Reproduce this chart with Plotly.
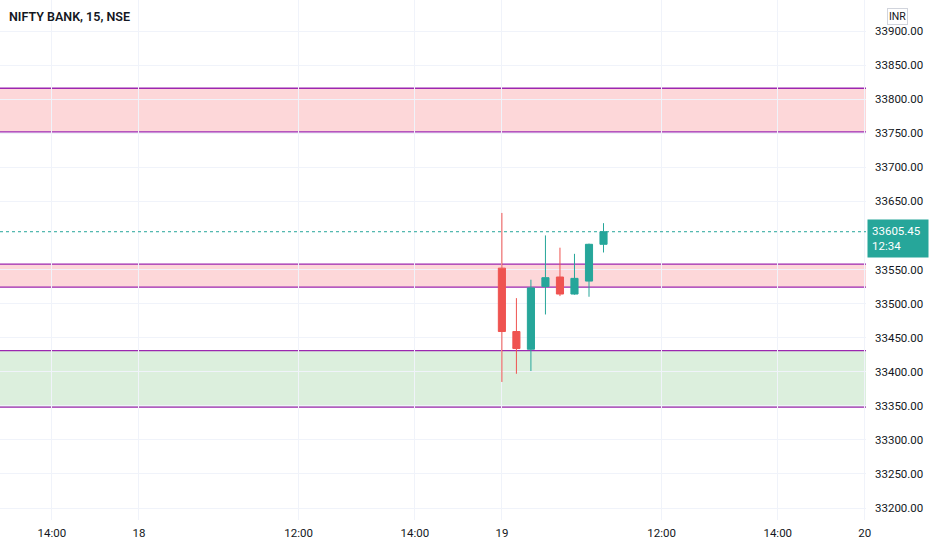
import plotly.graph_objects as go

# --- Data -------------------------------------------------------------------
TITLE = "NIFTY BANK, 15, NSE"

# 15-minute candles on day 19 (session 09:15 - 15:30)
candle_times = ["19 09:15", "19 09:30", "19 09:45", "19 10:00",
                "19 10:15", "19 10:30", "19 10:45", "19 11:00"]
opens = [33552, 33459, 33433, 33525, 33539, 33514, 33533, 33587]
highs = [33633, 33508, 33535, 33600, 33582, 33573, 33588, 33618]
lows = [33385, 33397, 33401, 33484, 33511, 33513, 33510, 33575]
closes = [33459, 33434, 33523, 33538, 33514, 33537, 33587, 33605.45]

last_price = 33605.45
countdown = "12:34"

# supply / demand zones (low, high)
red_zones = [(33752, 33816), (33524, 33558)]
green_zones = [(33348, 33431)]

# time axis labels
tick_times = ["17 14:00", "18 09:15", "18 12:00", "18 14:00",
              "19 09:15", "19 12:00", "19 14:00", "20 09:15"]
tick_labels = ["14:00", "18", "12:00", "14:00", "19", "12:00", "14:00", "20"]

# 33600 sits under the last-price label, so it is left out
price_ticks = [p for p in range(33200, 33901, 50) if p != 33600]

# --- Helpers ----------------------------------------------------------------
SESSION_START = 9 * 60 + 15
BAR_MIN = 15
BARS_PER_DAY = 25
BASE_DAY = 18


def bar_index(stamp):
    """Convert 'DD HH:MM' to a gapless bar index (trading hours only)."""
    day, hm = stamp.split()
    h, m = hm.split(":")
    minutes = int(h) * 60 + int(m) - SESSION_START
    return (int(day) - BASE_DAY) * BARS_PER_DAY + minutes / BAR_MIN


UP = "#26a69a"
DOWN = "#ef5350"
ZONE_LINE = "#9c27b0"
TEXT = "#131722"
GRID = "#f0f3fa"
FONT = "Roboto"

x_candles = [bar_index(t) for t in candle_times]

fig = go.Figure()
fig.add_trace(go.Candlestick(
    x=x_candles, open=opens, high=highs, low=lows, close=closes,
    increasing=dict(line=dict(color=UP, width=1), fillcolor=UP),
    decreasing=dict(line=dict(color=DOWN, width=1), fillcolor=DOWN),
    whiskerwidth=0, showlegend=False, hoverinfo="skip",
))

# zones
for zones, fill in ((red_zones, "rgba(247,124,128,0.3)"), (green_zones, "rgba(129,199,132,0.28)")):
    for lo, hi in zones:
        fig.add_shape(type="rect", xref="paper", x0=0, x1=1, yref="y", y0=lo, y1=hi,
                      fillcolor=fill, line=dict(width=0), layer="between")
        for yv in (lo, hi):
            fig.add_shape(type="line", xref="paper", x0=0, x1=1, yref="y", y0=yv, y1=yv,
                          line=dict(color=ZONE_LINE, width=1.3), layer="between")

# last price line
fig.add_shape(type="line", xref="paper", x0=0, x1=1, yref="y", y0=last_price, y1=last_price,
              line=dict(color=UP, width=1, dash="dot"), layer="above")

fig.add_annotation(xref="paper", x=1, yref="y", y=last_price, xanchor="left", yanchor="middle",
                   xshift=1, yshift=-7, width=52, text=f"{last_price:.2f}<br>{countdown}",
                   showarrow=False, align="left", bgcolor=UP, borderpad=4,
                   font=dict(family=FONT, size=11.5, color="white"))

fig.add_annotation(xref="paper", x=0.008, yref="paper", y=0.968, xanchor="left", yanchor="middle",
                   text=TITLE, showarrow=False,
                   font=dict(family=FONT, size=12.5, color=TEXT, weight=600))

fig.add_annotation(xref="paper", x=1.0358, yref="paper", y=0.969, xanchor="center", yanchor="middle",
                   text="INR", showarrow=False, bgcolor="white", bordercolor="#d1d4dc",
                   borderwidth=1, borderpad=1, font=dict(family=FONT, size=10.5, color=TEXT))

fig.update_layout(
    width=932, height=550,
    margin=dict(l=0, r=66, t=0, b=30),
    paper_bgcolor="white", plot_bgcolor="white",
    font=dict(family=FONT, size=11, color=TEXT),
    xaxis=dict(range=[-9.57, 50.08], rangeslider=dict(visible=False),
               tickvals=[bar_index(t) for t in tick_times], ticktext=tick_labels,
               showgrid=True, gridcolor=GRID, zeroline=False, showline=False,
               ticks="", tickfont=dict(size=11.5), automargin=False, ticklabelstandoff=4),
    yaxis=dict(range=[33182.4, 33945.5], side="right", tickvals=price_ticks,
               tickformat=".2f", showgrid=True, gridcolor=GRID, zeroline=False,
               showline=False, ticks="", tickfont=dict(size=11.5), automargin=False,
               ticklabelstandoff=8),
)

fig.write_html("out.html", config={"displayModeBar": False},
               post_script="document.body.style.margin='0';")
